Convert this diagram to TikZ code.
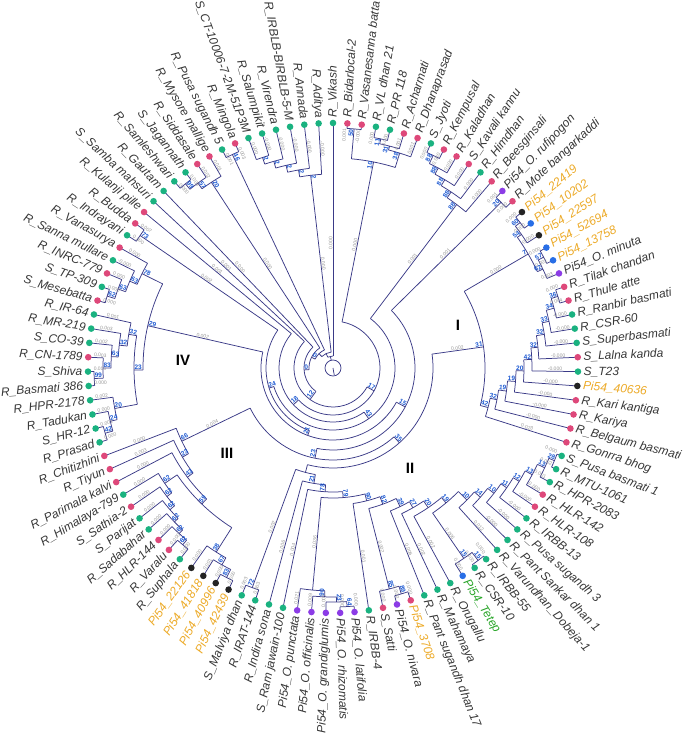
\documentclass[tikz,border=0pt]{standalone}
\usepackage{fontspec}
\setmainfont{Liberation Sans}
\definecolor{trc}{RGB}{58,58,135}
\definecolor{dgr}{RGB}{26,178,128}
\definecolor{dpk}{RGB}{222,72,122}
\definecolor{dpu}{RGB}{140,60,230}
\definecolor{dbl}{RGB}{40,110,230}
\definecolor{dbk}{RGB}{35,35,35}
\definecolor{txt}{RGB}{55,55,55}
\definecolor{tor}{RGB}{236,170,40}
\definecolor{tgn}{RGB}{40,165,40}
\definecolor{bsc}{RGB}{30,90,210}
\definecolor{blc}{RGB}{150,150,150}
\newcommand\inn[4]{\draw[tree] (#1:#3pt) arc[start angle=#1,end angle=#2,radius=#3pt];\draw[tree] ({(#1+#2)/2}:#4pt) -- ({(#1+#2)/2}:#3pt);}
\newcommand\lf[2]{\draw[tree] (#1:#2pt) -- (#1:245pt);}
\newcommand\bs[3]{%
 \pgfmathsetmacro\bsa{mod(#1+720,360)}%
 \pgfmathtruncatemacro\bsleft{and(\bsa>90.5,\bsa<269.5)}%
 \ifnum\bsleft=1
   \node[bsl,anchor=south west,rotate=\bsa-180] at (\bsa:#2pt) {#3};
 \else
   \node[bsl,anchor=south east,rotate=\bsa] at (\bsa:#2pt) {#3};
 \fi}
\newcommand\bl[3]{%
 \pgfmathsetmacro\bla{mod(#1+720,360)}%
 \pgfmathtruncatemacro\blleft{and(\bla>90.5,\bla<269.5)}%
 \ifnum\blleft=1
   \node[bll,anchor=south,rotate=\bla-180] at (\bla:#2pt) {#3};
 \else
   \node[bll,anchor=south,rotate=\bla] at (\bla:#2pt) {#3};
 \fi}
\newcommand\lfl[3]{\lf{#1}{#2}\pgfmathsetmacro\lfr{min((#2+245)/2,233)}\bl{#1}{\lfr}{#3}}
\begin{document}
\begin{tikzpicture}[
  tree/.style={draw=trc, line width=0.75pt},
  lab/.style={font=\itshape\fontsize{12}{12}\selectfont, inner sep=0.5pt},
  bsl/.style={font=\bfseries\fontsize{6.5}{6.5}\selectfont, text=bsc, inner sep=0.4pt},
  bll/.style={font=\fontsize{5}{5}\selectfont, text=blc, inner sep=0.5pt},
  clade/.style={font=\bfseries\fontsize{15}{15}\selectfont, text=black}
]
\useasboundingbox (-333pt,-370pt) rectangle (352pt,368pt);
% root
\draw[tree] (0,0) circle[radius=8pt];
\draw[tree] (0,0) -- (-80:7pt);
% backbone
\inn{90}{115.505}{12}{8}
\inn{96.62}{134.39}{16}{12}
\inn{115.24}{153.54}{20}{16}
\inn{123.22}{183.855}{24}{20}
\inn{133.74}{233.97}{29}{24}
\inn{137.10}{330.84}{39}{29}
\inn{78.86}{-137.18}{47}{39}
\inn{140.47}{305.17}{54}{47}
\inn{52.89}{-162.555}{62}{54}
\inn{145.515}{249.375}{67}{62}
\inn{167.15}{331.65}{72}{67}
\inn{44.58}{-101.28}{82}{72}
\inn{205.84}{311.595}{92}{82}
\inn{7.99}{-104.8}{100}{92}
% top
\lf{90}{12}
\inn{110.19}{106.82}{222}{215}
\inn{108.505}{103.46}{215}{208}
\inn{105.98}{100.09}{208}{201}
\inn{103.035}{96.73}{201}{194}
\inn{99.88}{93.36}{194}{16}
\lfl{110.19}{222}{0.000}\lfl{106.82}{222}{-0.000}\lfl{103.46}{215}{-0.000}\lfl{100.09}{208}{-0.000}\lfl{96.73}{201}{-0.000}\lfl{93.36}{194}{-0.000}
\inn{116.92}{113.55}{236}{20}
\lfl{116.92}{236}{0.001}\lfl{113.55}{236}{0.003}
\inn{130.37}{127.01}{236}{229}
\inn{128.69}{123.64}{229}{222}
\inn{126.165}{120.28}{222}{24}
\lfl{130.37}{236}{0.000}\lfl{127.01}{236}{0.003}\lfl{123.64}{229}{0.002}\lfl{120.28}{222}{0.001}
\lf{133.74}{29}\lf{137.10}{39}\lf{140.47}{54}
\inn{147.20}{143.83}{234}{67}
\lfl{147.20}{234}{0.000}\lfl{143.83}{234}{0.007}
% IV
\inn{197.66}{194.30}{237}{229}
\inn{195.98}{190.93}{229}{222}
\inn{193.455}{187.57}{222}{199}
\inn{184.21}{180.84}{239}{230}
\inn{182.525}{177.48}{230}{222}
\inn{180.0025}{174.11}{222}{215}
\inn{177.056}{170.75}{215}{207}
\inn{173.903}{167.38}{207}{199}
\inn{170.64}{190.5125}{199}{190}
\inn{164.02}{160.65}{237}{229}
\inn{162.335}{157.29}{229}{221}
\inn{159.8125}{153.93}{221}{213}
\inn{156.871}{150.56}{213}{190}
\inn{180.576}{153.7155}{190}{72}
\lfl{197.66}{237}{0.000}\lfl{194.30}{237}{0.001}\lfl{190.93}{229}{0.000}\lfl{187.57}{222}{0.002}\lfl{184.21}{239}{0.000}\lfl{180.84}{239}{0.015}\lfl{177.48}{230}{0.003}\lfl{174.11}{222}{0.002}\lfl{170.75}{215}{0.003}\lfl{167.38}{207}{0.001}\lfl{164.02}{237}{0.000}\lfl{160.65}{237}{0.000}\lfl{157.29}{229}{0.000}\lfl{153.93}{221}{-0.000}\lfl{150.56}{213}{0.000}
% III
\inn{244.77}{241.40}{235}{226}
\inn{243.085}{238.04}{226}{218}
\inn{240.5625}{234.67}{218}{189}
\inn{231.31}{227.94}{232}{226}
\inn{229.625}{224.58}{226}{221}
\inn{227.1025}{221.21}{221}{216}
\inn{224.156}{217.85}{216}{210}
\inn{221.003}{214.49}{210}{204}
\inn{217.7465}{211.12}{204}{189}
\inn{214.433}{237.616}{189}{182}
\inn{207.76}{226.0245}{182}{175}
\inn{204.39}{216.892}{175}{168}
\inn{201.03}{210.641}{168}{92}
\lfl{244.77}{235}{0.000}\lfl{241.40}{235}{0.000}\lfl{238.04}{226}{0.001}\lfl{234.67}{218}{0.000}\lfl{231.31}{232}{0.000}\lfl{227.94}{232}{0.000}\lfl{224.58}{226}{0.000}\lfl{221.21}{221}{0.000}\lfl{217.85}{216}{0.000}\lfl{214.49}{210}{0.000}\lfl{211.12}{204}{0.000}\lfl{207.76}{182}{0.000}\lfl{204.39}{175}{0.003}\lfl{201.03}{168}{0.000}
% II
\inn{-21.03}{-24.39}{240}{234}
\inn{-22.71}{-27.76}{234}{226}
\inn{-25.235}{-31.12}{226}{218}
\inn{-28.1775}{-34.49}{218}{211}
\inn{-31.334}{-37.85}{211}{204}
\inn{-34.592}{-41.22}{204}{196}
\inn{-37.906}{-44.58}{196}{188}
\inn{-41.243}{-47.94}{188}{176}
\inn{-51.31}{-54.67}{241}{231}
\inn{-52.99}{-58.04}{231}{176}
\inn{-44.5915}{-55.515}{176}{169}
\inn{-50.053}{-61.40}{169}{161}
\inn{-55.7265}{-64.77}{161}{154}
\inn{-60.248}{-68.13}{154}{145}
\inn{-71.50}{-74.86}{236}{228}
\inn{-73.18}{-78.22}{228}{145}
\inn{-64.189}{-75.70}{145}{137}
\inn{-69.9445}{-81.59}{137}{130}
\inn{-84.95}{-88.32}{239}{234}
\inn{-86.635}{-91.68}{234}{229}
\inn{-89.1575}{-95.05}{229}{223}
\inn{-92.104}{-98.41}{223}{130}
\inn{-75.767}{-95.257}{130}{124}
\inn{-85.512}{-101.78}{124}{117}
\inn{-93.646}{-105.14}{117}{108}
\inn{-108.50}{-111.87}{234}{108}
\inn{-99.393}{-110.185}{108}{100}
\lfl{-21.03}{240}{0.000}\lfl{-24.39}{240}{0.002}\lfl{-27.76}{234}{0.001}\lfl{-31.12}{226}{-0.000}\lfl{-34.49}{218}{-0.000}\lfl{-37.85}{211}{-0.000}\lfl{-41.22}{204}{-0.000}\lfl{-44.58}{196}{-0.000}\lf{-47.94}{188}\lfl{-51.31}{241}{0.000}\lfl{-54.67}{241}{0.000}\lfl{-58.04}{231}{0.000}\lf{-61.40}{169}\lf{-64.77}{161}\lf{-68.13}{154}\lfl{-71.50}{236}{0.000}\lfl{-74.86}{236}{0.000}\lfl{-78.22}{228}{0.000}\lf{-81.59}{137}\lfl{-84.95}{239}{0.000}\lfl{-88.32}{239}{0.000}\lfl{-91.68}{234}{0.007}\lfl{-95.05}{229}{0.009}\lfl{-98.41}{223}{0.021}\lf{-101.78}{124}\lf{-105.14}{117}\lfl{-108.50}{234}{0.003}\lfl{-111.87}{234}{0.003}
% I
\inn{39.53}{36.17}{237}{231}
\inn{37.85}{32.80}{231}{226}
\inn{29.44}{26.07}{238}{232}
\inn{27.755}{22.71}{232}{226}
\inn{35.325}{25.2325}{226}{152}
\inn{19.35}{15.98}{236}{229}
\inn{17.665}{12.62}{229}{221}
\inn{15.1425}{9.25}{221}{214}
\inn{12.196}{5.89}{214}{206}
\inn{9.043}{2.52}{206}{199}
\inn{5.7815}{-0.84}{199}{191}
\inn{2.471}{-4.21}{191}{183}
\inn{-0.8695}{-7.57}{183}{175}
\inn{-4.21975}{-10.93}{175}{167}
\inn{-7.575}{-14.30}{167}{160}
\inn{-10.9375}{-17.66}{160}{152}
\inn{30.279}{-14.299}{152}{100}
\lfl{39.53}{237}{0.000}\lfl{36.17}{237}{0.000}\lfl{32.80}{231}{-0.000}\lfl{29.44}{238}{0.000}\lfl{26.07}{238}{0.002}\lfl{22.71}{232}{0.003}\lfl{19.35}{236}{0.000}\lfl{15.98}{236}{0.004}\lfl{12.62}{229}{-0.000}\lfl{9.25}{221}{-0.000}\lfl{5.89}{214}{-0.000}\lfl{2.52}{206}{-0.000}\lfl{-0.84}{199}{-0.000}\lfl{-4.21}{191}{-0.000}\lfl{-7.57}{183}{-0.000}\lfl{-10.93}{175}{-0.000}\lfl{-14.30}{167}{-0.000}\lf{-17.66}{160}
% G4, G3, G2
\inn{46.26}{42.90}{236}{82}
\lfl{46.26}{236}{0.001}\lfl{42.90}{236}{0.000}
\inn{66.45}{63.08}{235}{226}
\inn{64.765}{59.72}{226}{219}
\inn{62.2425}{56.36}{219}{212}
\inn{59.30}{52.99}{212}{205}
\inn{56.145}{49.63}{205}{62}
\lfl{66.45}{235}{0.000}\lfl{63.08}{235}{0.000}\lfl{59.72}{226}{0.000}\lfl{56.36}{219}{0.000}\lfl{52.99}{212}{0.000}\lfl{49.63}{205}{0.000}
\inn{86.64}{83.27}{240}{210}
\inn{79.91}{76.54}{234}{229}
\inn{78.225}{73.18}{229}{225}
\inn{75.7025}{69.81}{225}{210}
\inn{84.955}{72.756}{210}{47}
\lfl{86.64}{240}{0.001}\lfl{83.27}{240}{-0.000}\lfl{79.91}{234}{0.000}\lfl{76.54}{234}{-0.000}\lfl{73.18}{229}{0.001}\lfl{69.81}{225}{0.001}
% bootstrap values
\bs{84.955}{240}{50}\bs{78.225}{234}{11}\bs{75.7025}{229}{31}\bs{72.756}{225}{38}\bs{78.856}{210}{10}
\bs{64.765}{235}{88}\bs{62.2425}{226}{88}\bs{59.30}{219}{88}\bs{56.145}{212}{88}\bs{52.8875}{205}{88}
\bs{44.58}{236}{20}
\bs{37.85}{237}{60}\bs{35.325}{231}{54}\bs{27.755}{238}{57}\bs{25.2325}{232}{62}\bs{30.279}{226}{7}
\bs{17.665}{236}{36}\bs{15.1425}{229}{34}\bs{12.196}{221}{33}\bs{9.043}{214}{32}\bs{5.7815}{206}{32}\bs{2.471}{199}{42}\bs{-0.8695}{191}{20}\bs{-4.21975}{183}{19}\bs{-7.575}{175}{19}\bs{-10.9375}{167}{32}\bs{-14.299}{160}{42}\bs{7.99}{152}{31}
\bs{-22.71}{240}{28}\bs{-25.235}{234}{13}\bs{-28.1775}{226}{13}\bs{-31.334}{218}{12}\bs{-34.592}{211}{11}\bs{-37.906}{204}{10}\bs{-41.243}{196}{14}\bs{-44.5915}{188}{10}\bs{-55.515}{231}{15}\bs{-52.99}{241}{15}
\bs{-50.053}{176}{19}\bs{-55.7265}{169}{20}\bs{-60.248}{161}{27}\bs{-64.189}{154}{39}\bs{-73.18}{236}{89}\bs{-75.70}{228}{85}\bs{-69.9445}{145}{82}\bs{-75.767}{137}{90}\bs{-86.635}{239}{64}\bs{-89.1575}{234}{23}\bs{-92.104}{229}{90}\bs{-85.512}{130}{79}\bs{-93.646}{124}{78}\bs{-99.393}{117}{21}\bs{-110.185}{234}{72}
\bs{243.085}{235}{83}\bs{240.5625}{226}{67}\bs{237.616}{218}{38}
\bs{229.625}{232}{62}\bs{227.1025}{226}{62}\bs{224.156}{221}{62}\bs{221.003}{216}{62}\bs{217.7465}{210}{62}\bs{214.433}{204}{62}
\bs{226.0245}{189}{59}\bs{216.892}{182}{43}\bs{210.641}{175}{23}\bs{205.8355}{168}{66}
\bs{195.98}{237}{42}\bs{193.455}{229}{24}\bs{190.5125}{222}{20}\bs{182.525}{239}{99}\bs{180.0025}{230}{83}\bs{177.056}{222}{63}\bs{173.903}{215}{32}\bs{170.64}{207}{32}\bs{180.576}{199}{23}
\bs{162.335}{237}{62}\bs{159.8125}{229}{63}\bs{156.871}{221}{63}\bs{153.7155}{213}{78}\bs{167.146}{190}{29}\bs{145.515}{234}{73}
\bs{128.69}{236}{99}\bs{126.165}{229}{57}\bs{123.2225}{222}{20}\bs{115.24}{236}{46}
\bs{108.505}{222}{2}\bs{105.98}{215}{2}\bs{103.035}{208}{2}\bs{99.88}{201}{2}\bs{96.62}{194}{2}
\bs{-48.405}{100}{35}\bs{258.72}{92}{23}\bs{-28.35}{82}{15}\bs{249.4}{72}{21}\bs{197.45}{67}{24}\bs{-54.83}{62}{43}\bs{222.82}{54}{18}\bs{-29.16}{47}{17}\bs{233.97}{39}{12}\bs{183.86}{29}{0}\bs{153.54}{24}{0}
% branch lengths
\bl{90}{125}{0.000}\bl{96.62}{105}{0.000}\bl{78.86}{125}{0.000}\bl{52.89}{135}{0.001}\bl{44.58}{160}{0.001}
\bl{30.28}{190}{0.000}\bl{7.99}{126}{0.002}\bl{-17.66}{203}{0.023}
\bl{123.22}{123}{0.000}\bl{133.74}{137}{0.000}\bl{137.10}{148}{0.001}\bl{140.47}{152}{0.001}\bl{145.515}{155}{0.002}
\bl{167.15}{134}{0.002}\bl{205.84}{133}{0.004}
\bl{-110.19}{170}{0.002}\bl{-105.14}{186}{0.006}\bl{-101.78}{186}{0.004}\bl{-95.26}{175}{0.036}\bl{-81.59}{191}{0.001}\bl{-75.70}{185}{0.002}\bl{-68.13}{197}{0.006}\bl{-64.77}{202}{0.002}\bl{-61.40}{200}{0.002}\bl{-55.52}{203}{0.006}\bl{-47.94}{215}{0.012}
% leaves
\foreach \i/\nm/\dc/\tc in {
1/R\_Vikash/dgr/txt,2/R\_Bidarlocal-2/dpk/txt,3/R\_Vasanesanna batta/dpk/txt,4/R\_VL dhan 21/dgr/txt,5/R\_PR 118/dgr/txt,
6/R\_Acharmati/dpk/txt,7/R\_Dhanaprasad/dpk/txt,8/S\_Jyoti/dgr/txt,9/R\_Kempusal/dpk/txt,10/R\_Kaladhan/dpk/txt,
11/S\_Kavali kannu/dpk/txt,12/R\_Himdhan/dgr/txt,13/R\_Beesginsali/dpk/txt,14/Pi54\_O. rufipogon/dpu/txt,15/R\_Mote bangarkaddi/dpk/txt,
16/Pi54\_22419/dbk/tor,17/Pi54\_10202/dbl/tor,18/Pi54\_22597/dbk/tor,19/Pi54\_52694/dbl/tor,20/Pi54\_13758/dbl/tor,
21/Pi54\_O. minuta/dpu/txt,22/R\_Tilak chandan/dpk/txt,23/R\_Thule atte/dpk/txt,24/R\_Ranbir basmati/dgr/txt,25/R\_CSR-60/dgr/txt,
26/S\_Superbasmati/dgr/txt,27/S\_Lalna kanda/dpk/txt,28/S\_T23/dgr/txt,29/Pi54\_40636/dbk/tor,30/R\_Kari kantiga/dpk/txt,
31/R\_Kariya/dpk/txt,32/R\_Belgaum basmati/dpk/txt,33/R\_Gonrra bhog/dpk/txt,34/S\_Pusa basmati 1/dgr/txt,35/R\_MTU-1061/dgr/txt,
36/R\_HPR-2083/dgr/txt,37/R\_HLR-142/dpk/txt,38/R\_HLR-108/dpk/txt,39/R\_IRBB-13/dgr/txt,40/R\_Pusa sugandh 3/dgr/txt,
41/R\_Pant Sankar dhan 1/dgr/txt,42/R\_Varundhan\_Dobeja-1/dgr/txt,43/R\_IRBB-55/dgr/txt,44/R\_CSR-10/dgr/txt,45/Pi54\_Tetep/dbl/tgn,
46/R\_Orugallu/dgr/txt,47/R\_Mahamaya/dgr/txt,48/R\_Pant sugandh dhan 17/dgr/txt,49/Pi54\_3708/dpk/tor,50/Pi54\_O. nivara/dpu/txt,
51/S\_Satti/dpk/txt,52/R\_IRBB-4/dgr/txt,53/Pi54\_O. latifolia/dpu/txt,54/Pi54\_O. rhizomatis/dpu/txt,55/Pi54\_O. grandiglumis/dpu/txt,
56/Pi54\_O. officinalis/dpu/txt,57/Pi54\_O. punctata/dpu/txt,58/S\_Ram jawain-100/dgr/txt,59/R\_Indira sona/dgr/txt,60/R\_IRAT-144/dgr/txt,
61/S\_Malviya dhan/dgr/txt,62/Pi54\_42439/dbk/tor,63/Pi54\_40996/dbk/tor,64/Pi54\_41818/dbk/tor,65/Pi54\_22126/dbk/tor,
66/R\_Suphala/dgr/txt,67/R\_Varalu/dpk/txt,68/R\_HLR-144/dpk/txt,69/R\_Sadabahar/dgr/txt,70/S\_Parijat/dgr/txt,
71/S\_Sathia-2/dpk/txt,72/R\_Himalaya-799/dgr/txt,73/R\_Parimala kalvi/dpk/txt,74/R\_Tiyun/dpk/txt,75/R\_Chitizhini/dpk/txt,
76/R\_Prasad/dgr/txt,77/S\_HR-12/dgr/txt,78/R\_Tadukan/dgr/txt,79/R\_HPR-2178/dgr/txt,80/R\_Basmati 386/dgr/txt,
81/S\_Shiva/dgr/txt,82/R\_CN-1789/dpk/txt,83/S\_CO-39/dgr/txt,84/R\_MR-219/dgr/txt,85/R\_IR-64/dgr/txt,
86/S\_Mesebatta/dpk/txt,87/S\_TP-309/dgr/txt,88/R\_INRC-779/dpk/txt,89/R\_Sanna mullare/dgr/txt,90/R\_Vanasurya/dpk/txt,
91/R\_Indrayani/dgr/txt,92/R\_Budda/dpk/txt,93/R\_Kulanji pille/dpk/txt,94/S\_Samba mahsuri/dgr/txt,95/R\_Gautam/dgr/txt,
96/R\_Samleshwari/dgr/txt,97/S\_Jagannath/dgr/txt,98/R\_Siddasale/dpk/txt,99/R\_Mysore mallige/dpk/txt,100/R\_Pusa sugandh 5/dgr/txt,
101/R\_Mingola/dpk/txt,102/S\_CT-10006-7-2M-51P3M/dgr/txt,103/R\_Salumpikit/dgr/txt,104/R\_Virendra/dgr/txt,105/R\_IRBLB-BIRBLB-5-M/dgr/txt,
106/R\_Annada/dgr/txt,107/R\_Aditya/dgr/txt}{
  \pgfmathsetmacro\a{90-(\i-1)*3.364486}
  \pgfmathtruncatemacro\lft{\a<-90}
  \fill[\dc] (\a:245pt) circle[radius=3.3pt];
  \ifnum\lft=1
    \node[lab,text=\tc,anchor=east,rotate=\a+180] (L\i) at (\a:250pt) {\nm};
  \else
    \node[lab,text=\tc,anchor=west,rotate=\a] (L\i) at (\a:250pt) {\nm};
  \fi
}
% clade labels
\node[clade] (cI) at (125pt,43pt) {I};
\node[clade] (cII) at (77pt,-100pt) {II};
\node[clade] (cIII) at (-106pt,-85pt) {III};
\node[clade] (cIV) at (-150pt,8pt) {IV};
\end{tikzpicture}
\end{document}
